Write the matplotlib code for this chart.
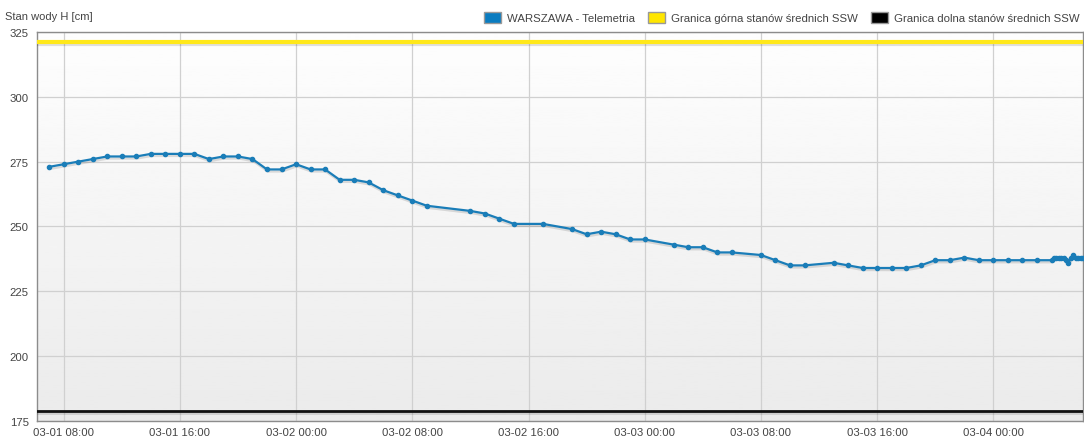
import numpy as np
import pandas as pd
import matplotlib
matplotlib.use("Agg")
import matplotlib.pyplot as plt
import matplotlib.dates as mdates
import matplotlib.patheffects as pe
from matplotlib.patches import Patch

# -----------------------------
# DATA
# -----------------------------
times = [
    "03-01 07:00", "03-01 08:00", "03-01 09:00", "03-01 10:00", "03-01 11:00",
    "03-01 12:00", "03-01 13:00", "03-01 14:00", "03-01 15:00", "03-01 16:00",
    "03-01 17:00", "03-01 18:00", "03-01 19:00", "03-01 20:00", "03-01 21:00",
    "03-01 22:00", "03-01 23:00", "03-02 00:00", "03-02 01:00", "03-02 02:00",
    "03-02 03:00", "03-02 04:00", "03-02 05:00", "03-02 06:00", "03-02 07:00",
    "03-02 08:00", "03-02 09:00", "03-02 12:00", "03-02 13:00", "03-02 14:00",
    "03-02 15:00", "03-02 17:00", "03-02 19:00", "03-02 20:00", "03-02 21:00",
    "03-02 22:00", "03-02 23:00", "03-03 00:00", "03-03 02:00", "03-03 03:00",
    "03-03 04:00", "03-03 05:00", "03-03 06:00", "03-03 08:00", "03-03 09:00",
    "03-03 10:00", "03-03 11:00", "03-03 13:00", "03-03 14:00", "03-03 15:00",
    "03-03 16:00", "03-03 17:00", "03-03 18:00", "03-03 19:00", "03-03 20:00",
    "03-03 21:00", "03-03 22:00", "03-03 23:00", "03-04 00:00", "03-04 01:00",
    "03-04 02:00", "03-04 03:00", "03-04 04:00", "03-04 04:10", "03-04 04:20",
    "03-04 04:30", "03-04 04:40", "03-04 04:50", "03-04 05:00", "03-04 05:10",
    "03-04 05:20", "03-04 05:30", "03-04 05:40", "03-04 05:50", "03-04 06:00",
    "03-04 06:10",
]
levels = [
    273, 274, 275, 276, 277,
    277, 277, 278, 278, 278,
    278, 276, 277, 277, 276,
    272, 272, 274, 272, 272,
    268, 268, 267, 264, 262,
    260, 258, 256, 255, 253,
    251, 251, 249, 247, 248,
    247, 245, 245, 243, 242,
    242, 240, 240, 239, 237,
    235, 235, 236, 235, 234,
    234, 234, 234, 235, 237,
    237, 238, 237, 237, 237,
    237, 237, 237, 238, 238,
    238, 238, 238, 237, 236,
    238, 239, 238, 238, 238,
    238,
]
UPPER_SSW = 321
LOWER_SSW = 179

t = pd.to_datetime(["2023-" + s for s in times], format="%Y-%m-%d %H:%M")
t_start = pd.Timestamp("2023-03-01 06:10")
t_end = pd.Timestamp("2023-03-04 06:10")

plt.rcParams["font.family"] = ["Liberation Sans", "DejaVu Sans"]

# -----------------------------
# PLOT
# -----------------------------
fig = plt.figure(figsize=(10.84, 4.39), dpi=100)
ax = fig.add_axes([37 / 1084, 17 / 439, 1046 / 1084, 389 / 439])

# gradient background of the plot area
grad = np.linspace(0.995, 0.92, 256).reshape(-1, 1)
ax.imshow(grad, cmap="gray", vmin=0, vmax=1, aspect="auto",
          extent=[0, 1, 0, 1], transform=ax.transAxes, zorder=0)

ax.set_xlim(t_start, t_end)
ax.set_ylim(175, 325)
ax.set_yticks([175, 200, 225, 250, 275, 300, 325])
ax.xaxis.set_major_locator(mdates.HourLocator(byhour=[0, 8, 16]))
ax.xaxis.set_major_formatter(mdates.DateFormatter("%m-%d %H:%M"))
ax.grid(True, color="#d0d0d0", linewidth=0.9, zorder=1)
ax.set_axisbelow(True)
ax.tick_params(length=0, labelsize=8.2, colors="#444444")
ax.tick_params(axis="x", pad=4.5)
ax.tick_params(axis="y", pad=6)
for sp in ax.spines.values():
    sp.set_color("#8c8c8c")
    sp.set_linewidth(1.0)

shadow = [pe.SimpleLineShadow(offset=(0.5, -1.5), shadow_color="black", alpha=0.12),
          pe.Normal()]

ax.axhline(UPPER_SSW, color="#ffe81a", linewidth=3, zorder=3, path_effects=shadow)
ax.axhline(LOWER_SSW, color="#111111", linewidth=2, zorder=3, path_effects=shadow)
ax.plot(t, levels, color="#1a7db8", linewidth=1.6, zorder=4, path_effects=shadow)
ax.plot(t, levels, linestyle="none", marker="o", markersize=3,
        color="#1a7db8", zorder=5)

fig.text(5 / 1084, 1 - 17 / 439, "Stan wody H [cm]", fontsize=8, color="#444444",
         va="center", ha="left")

handles = [
    Patch(facecolor="#0a7cc0", edgecolor="#999999", label="WARSZAWA - Telemetria"),
    Patch(facecolor="#ffe600", edgecolor="#999999", label="Granica górna stanów średnich SSW"),
    Patch(facecolor="#000000", edgecolor="#999999", label="Granica dolna stanów średnich SSW"),
]
leg = fig.legend(handles=handles, loc="upper right", bbox_to_anchor=(1.0, 1.0 - 8 / 439),
                 ncol=3, frameon=False, fontsize=8.2, handlelength=1.5, handleheight=1.2,
                 handletextpad=0.5, columnspacing=1.15, borderaxespad=0.0)
for txt in leg.get_texts():
    txt.set_color("#444444")

fig.savefig("out.png", dpi=100)
